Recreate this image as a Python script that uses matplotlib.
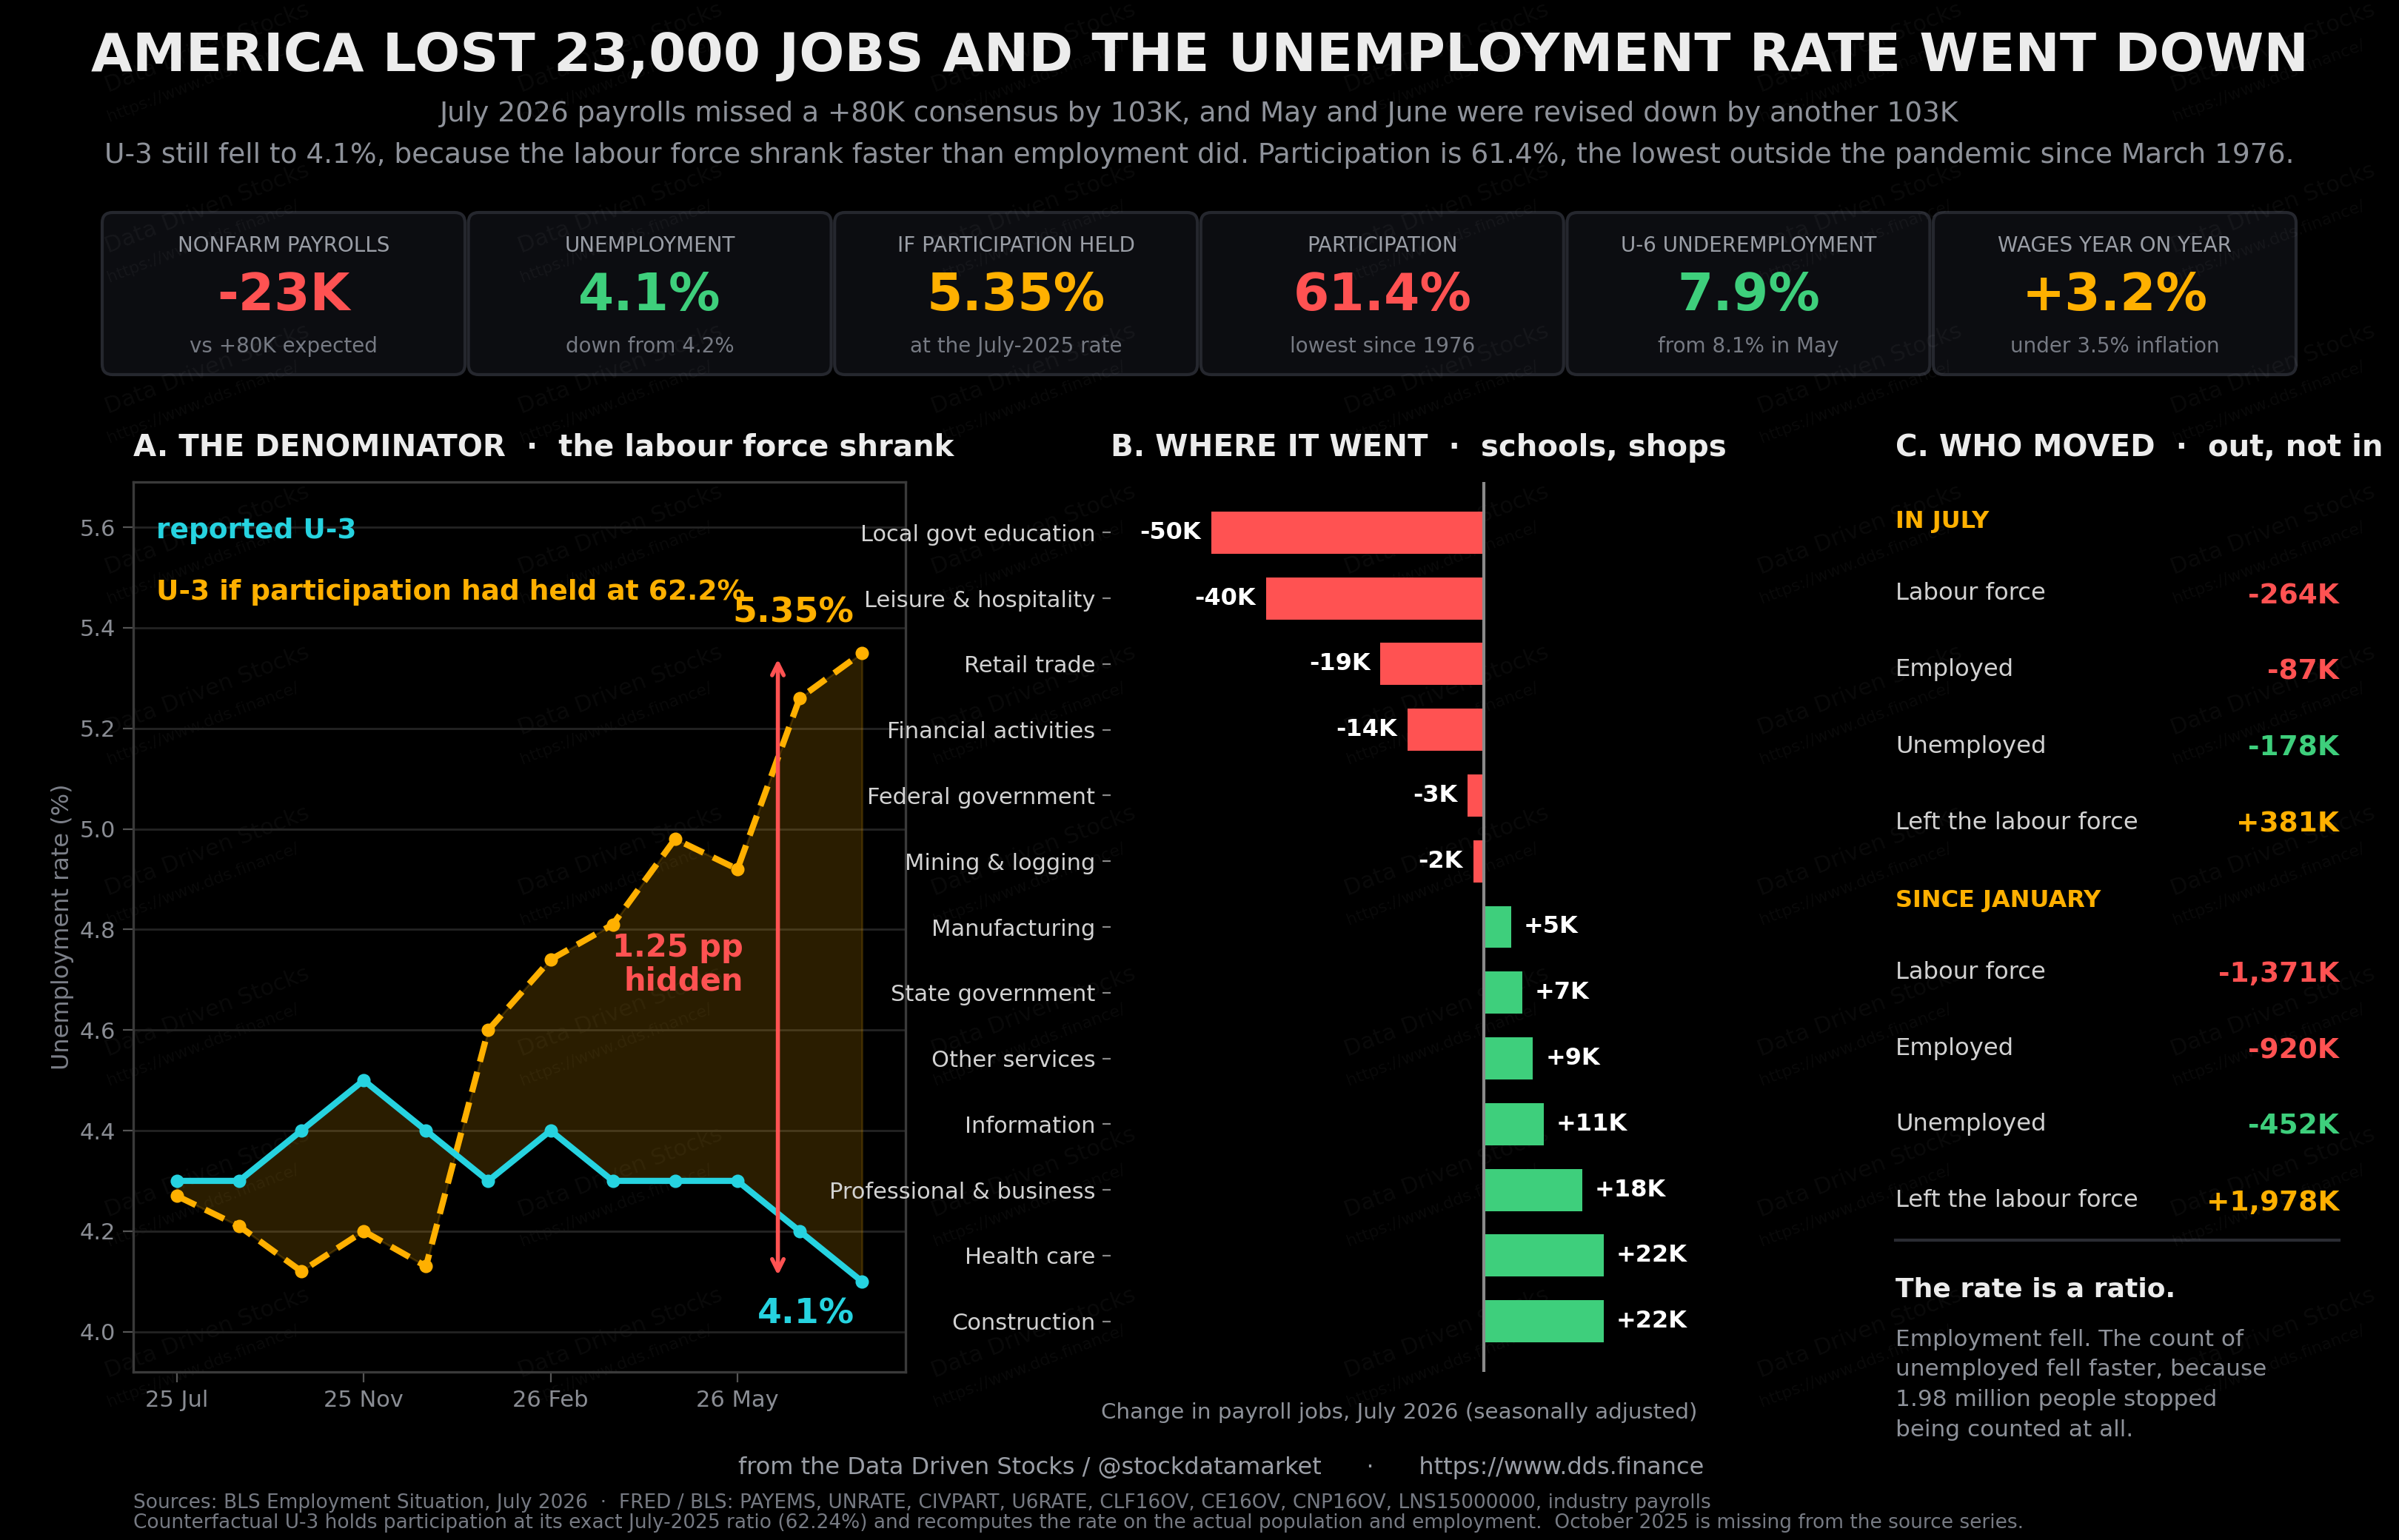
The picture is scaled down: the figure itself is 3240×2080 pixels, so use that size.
"""
July 2026 jobs report dashboard: payrolls fell, U-3 fell anyway.
Three panels: counterfactual U-3, payroll change by industry, flows table.
"""

import numpy as np
import matplotlib.pyplot as plt
from matplotlib.patches import FancyBboxPatch
from matplotlib.ticker import MultipleLocator

plt.rcParams['font.family'] = ['DejaVu Sans']

W, H, DPI = 3240, 2080, 200

BG = '#000000'
RED = '#ff5252'
GREEN = '#3ecf7c'
ORANGE = '#ffb000'
CYAN = '#26d3e0'
WHITE = '#ececec'
GREY = '#8e929a'
DIM = '#767a83'
LABEL = '#d2d2d2'

# ─────────────────────────────────────────────
# Data
# ─────────────────────────────────────────────
# headline cards
kpi_labels = ['NONFARM PAYROLLS', 'UNEMPLOYMENT', 'IF PARTICIPATION HELD',
              'PARTICIPATION', 'U-6 UNDEREMPLOYMENT', 'WAGES YEAR ON YEAR']
kpi_values = ['-23K', '4.1%', '5.35%', '61.4%', '7.9%', '+3.2%']
kpi_notes = ['vs +80K expected', 'down from 4.2%', 'at the July-2025 rate',
             'lowest since 1976', 'from 8.1% in May', 'under 3.5% inflation']
kpi_colors = [RED, GREEN, ORANGE, RED, GREEN, ORANGE]

# panel A  (October 2025 missing from the source series)
months = ['25 Jul', '25 Aug', '25 Sep', '25 Nov', '25 Dec', '26 Jan',
          '26 Feb', '26 Mar', '26 Apr', '26 May', '26 Jun', '26 Jul']
month_ticks = ['25 Jul', '25 Nov', '26 Feb', '26 May']
u3_reported = [4.3, 4.3, 4.4, 4.5, 4.4, 4.3, 4.4, 4.3, 4.3, 4.3, 4.2, 4.1]
u3_held = [4.27, 4.21, 4.12, 4.20, 4.13, 4.60, 4.74, 4.81, 4.98, 4.92, 5.26, 5.35]

# panel B  (thousands of jobs)
sectors = ['Local govt education', 'Leisure & hospitality', 'Retail trade',
           'Financial activities', 'Federal government', 'Mining & logging',
           'Manufacturing', 'State government', 'Other services', 'Information',
           'Professional & business', 'Health care', 'Construction']
job_change = [-50, -40, -19, -14, -3, -2, 5, 7, 9, 11, 18, 22, 22]

# panel C  (thousands of people)
flow_rows = ['Labour force', 'Employed', 'Unemployed', 'Left the labour force']
flow_july = [-264, -87, -178, 381]
flow_ytd = [-1371, -920, -452, 1978]
flow_colors = [RED, RED, GREEN, ORANGE]


def fx(px):
    return px / W


def fy(py):
    return 1 - py / H


fig = plt.figure(figsize=(W / DPI, H / DPI), dpi=DPI, facecolor=BG)

# background layer in pixel coordinates: watermark + cards
bg = fig.add_axes([0, 0, 1, 1], zorder=0)
bg.set_xlim(0, W)
bg.set_ylim(H, 0)
bg.set_axis_off()

# faint tiled watermark, kept inside the canvas
for row_y in np.arange(65, 1900, 217):
    for col_x in np.arange(280, 3100, 558):
        bg.text(col_x, row_y, 'Data Driven Stocks', fontsize=11, color='white',
                alpha=0.045, rotation=21, ha='center', va='center')
        bg.text(col_x - 6, row_y + 44, 'https://www.dds.finance/', fontsize=8,
                color='white', alpha=0.045, rotation=21, ha='center', va='center')

# ─── title block ───
fig.text(0.5, fy(76), 'AMERICA LOST 23,000 JOBS AND THE UNEMPLOYMENT RATE WENT DOWN',
         ha='center', va='center', fontsize=26, fontweight='bold', color=WHITE)
fig.text(0.5, fy(154), 'July 2026 payrolls missed a +80K consensus by 103K, '
         'and May and June were revised down by another 103K',
         ha='center', va='center', fontsize=13.5, color=GREY)
fig.text(0.5, fy(210), 'U-3 still fell to 4.1%, because the labour force shrank faster '
         'than employment did. Participation is 61.4%, the lowest outside the '
         'pandemic since March 1976.',
         ha='center', va='center', fontsize=13.5, color=GREY)

# ─── KPI cards ───
card_w, card_step, card_top, card_h = 490, 494.6, 287, 219
for i, (lab, val, note, col) in enumerate(zip(kpi_labels, kpi_values,
                                              kpi_notes, kpi_colors)):
    left = 138 + i * card_step
    bg.add_patch(FancyBboxPatch((left, card_top), card_w, card_h,
                                boxstyle='round,pad=0,rounding_size=14',
                                facecolor='#0c0d11', edgecolor='#25272e', lw=1.5))
    cx = fx(left + card_w / 2)
    fig.text(cx, fy(332), lab, ha='center', va='center', fontsize=10, color='#9a9ea6')
    fig.text(cx, fy(399), val, ha='center', va='center', fontsize=25,
             fontweight='bold', color=col)
    fig.text(cx, fy(468), note, ha='center', va='center', fontsize=10, color=DIM)

# ─────────────────────────────────────────────
# Panel A — the denominator
# ─────────────────────────────────────────────
ax_top, ax_bot = 651, 1853
axA = fig.add_axes([fx(180), fy(ax_bot), fx(1223 - 180), (ax_bot - ax_top) / H],
                   zorder=2)
axA.set_facecolor('none')
x = np.arange(len(months))

axA.fill_between(x, u3_reported, u3_held, color=ORANGE, alpha=0.17,
                 edgecolor=(1, 0.69, 0, 0.25), lw=1)
axA.plot(x, u3_held, color=ORANGE, lw=3, ls=(0, (3.4, 1.7)), marker='o', ms=5.5,
         zorder=4)
axA.plot(x, u3_reported, color=CYAN, lw=3, marker='o', ms=5.5, zorder=5)

arrow_x = 9.65
gap = u3_held[-1] - u3_reported[-1]
axA.annotate('', xy=(arrow_x, u3_held[-1]), xytext=(arrow_x, u3_reported[-1]),
             arrowprops=dict(arrowstyle='<->', color=RED, lw=2, shrinkA=3,
                             shrinkB=3, mutation_scale=14), zorder=6)
axA.text(9.1, 4.73, f'{gap:.2f} pp\nhidden', ha='right', va='center',
         multialignment='right', fontsize=15, fontweight='bold', color=RED,
         linespacing=1.1, zorder=6)
axA.text(9.9, 5.43, f'{u3_held[-1]:.2f}%', ha='center', va='center', fontsize=17,
         fontweight='bold', color=ORANGE, zorder=6)
axA.text(10.1, 4.035, f'{u3_reported[-1]:.1f}%', ha='center', va='center',
         fontsize=17, fontweight='bold', color=CYAN, zorder=6)

axA.text(0.03, 0.945, 'reported U-3', transform=axA.transAxes, fontsize=13.5,
         fontweight='bold', color=CYAN, va='center')
axA.text(0.03, 0.876, 'U-3 if participation had held at 62.2%',
         transform=axA.transAxes, fontsize=13.5, fontweight='bold',
         color=ORANGE, va='center')

axA.set_xlim(-0.7, 11.7)
axA.set_ylim(3.92, 5.69)
axA.yaxis.set_major_locator(MultipleLocator(0.2))
axA.set_xticks([months.index(m) for m in month_ticks], month_ticks)
axA.grid(axis='y', color='#232323', lw=1)
axA.set_axisbelow(True)
for sp in axA.spines.values():
    sp.set_color('#3a3a3a')
    sp.set_linewidth(1.2)
axA.tick_params(colors='#555555', labelcolor='#8a8d94', labelsize=11, length=5)
fig.text(fx(85), fy((ax_top + ax_bot) / 2), 'Unemployment rate (%)', rotation=90,
         ha='center', va='center', fontsize=11.5, color='#7d818a')

fig.text(fx(180), fy(605), 'A. THE DENOMINATOR  \u00b7  the labour force shrank',
         ha='left', va='center', fontsize=14.5, fontweight='bold', color=WHITE)

# ─────────────────────────────────────────────
# Panel B — where it went
# ─────────────────────────────────────────────
axB = fig.add_axes([fx(1500), fy(ax_bot), fx(2281 - 1500), (ax_bot - ax_top) / H],
                   zorder=2)
axB.set_facecolor('none')
yb = np.arange(len(sectors))
axB.barh(yb, job_change, height=0.64,
         color=[RED if v < 0 else GREEN for v in job_change], zorder=3)
axB.axvline(0, color='#8a8a8a', lw=1.5, zorder=4)
for yy, v in zip(yb, job_change):
    axB.annotate(f'{v:+d}K', (v, yy), xytext=(-5 if v < 0 else 6, 0),
                 textcoords='offset points', ha='right' if v < 0 else 'left',
                 va='center', fontsize=11.5, fontweight='bold', color='white')
axB.set_ylim(len(sectors) - 1 + 0.77, -0.77)
axB.set_xlim(-68.5, 37.6)
axB.set_yticks(yb, sectors)
axB.set_xticks([])
for sp in axB.spines.values():
    sp.set_visible(False)
axB.tick_params(axis='y', colors='#888888', labelcolor=LABEL, labelsize=11,
                length=4)
fig.text(fx(1890), fy(1908), 'Change in payroll jobs, July 2026 (seasonally adjusted)',
         ha='center', va='center', fontsize=10.6, color=GREY)

fig.text(fx(1500), fy(605), 'B. WHERE IT WENT  \u00b7  schools, shops',
         ha='left', va='center', fontsize=14.5, fontweight='bold', color=WHITE)

# ─────────────────────────────────────────────
# Panel C — who moved
# ─────────────────────────────────────────────
cl, cr = fx(2560), fx(3159)
fig.text(cl, fy(605), 'C. WHO MOVED  \u00b7  out, not in',
         ha='left', va='center', fontsize=14.5, fontweight='bold', color=WHITE)

row_step = 103
blocks = [('IN JULY', flow_july, 705), ('SINCE JANUARY', flow_ytd, 1216)]
for head, vals, y0 in blocks:
    fig.text(cl, fy(y0), head, ha='left', va='center', fontsize=11.5,
             fontweight='bold', color=ORANGE)
    for k, (name, v, col) in enumerate(zip(flow_rows, vals, flow_colors)):
        yy = y0 + 97 + k * row_step
        fig.text(cl, fy(yy), name, ha='left', va='center', fontsize=11.6, color=LABEL)
        fig.text(cr, fy(yy + 3), f'{v:+,}K', ha='right', va='center',
                 fontsize=13.5, fontweight='bold', color=col)

bg.plot([2560, 3159], [1675, 1675], color='#2a2c33', lw=1.5)
fig.text(cl, fy(1742), 'The rate is a ratio.', ha='left', va='center',
         fontsize=13, fontweight='bold', color=WHITE)
fig.text(cl, fy(1795), 'Employment fell. The count of\nunemployed fell faster, because\n'
         '1.98 million people stopped\nbeing counted at all.',
         ha='left', va='top', fontsize=11.2, color=GREY, linespacing=1.5)

# ─── footer ───
fig.text(fx(1649), fy(1983), 'from the Data Driven Stocks / @stockdatamarket'
         '      \u00b7      https://www.dds.finance',
         ha='center', va='center', fontsize=11.5, color='#9a9ea6')
fig.text(fx(180), fy(2030), 'Sources: BLS Employment Situation, July 2026  \u00b7  '
         'FRED / BLS: PAYEMS, UNRATE, CIVPART, U6RATE, CLF16OV, CE16OV, CNP16OV, '
         'LNS15000000, industry payrolls',
         ha='left', va='center', fontsize=9.5, color=DIM)
fig.text(fx(180), fy(2057), 'Counterfactual U-3 holds participation at its exact '
         'July-2025 ratio (62.24%) and recomputes the rate on the actual population '
         'and employment.  October 2025 is missing from the source series.',
         ha='left', va='center', fontsize=9.5, color=DIM)

fig.savefig('out.png', dpi=DPI, facecolor=BG)
